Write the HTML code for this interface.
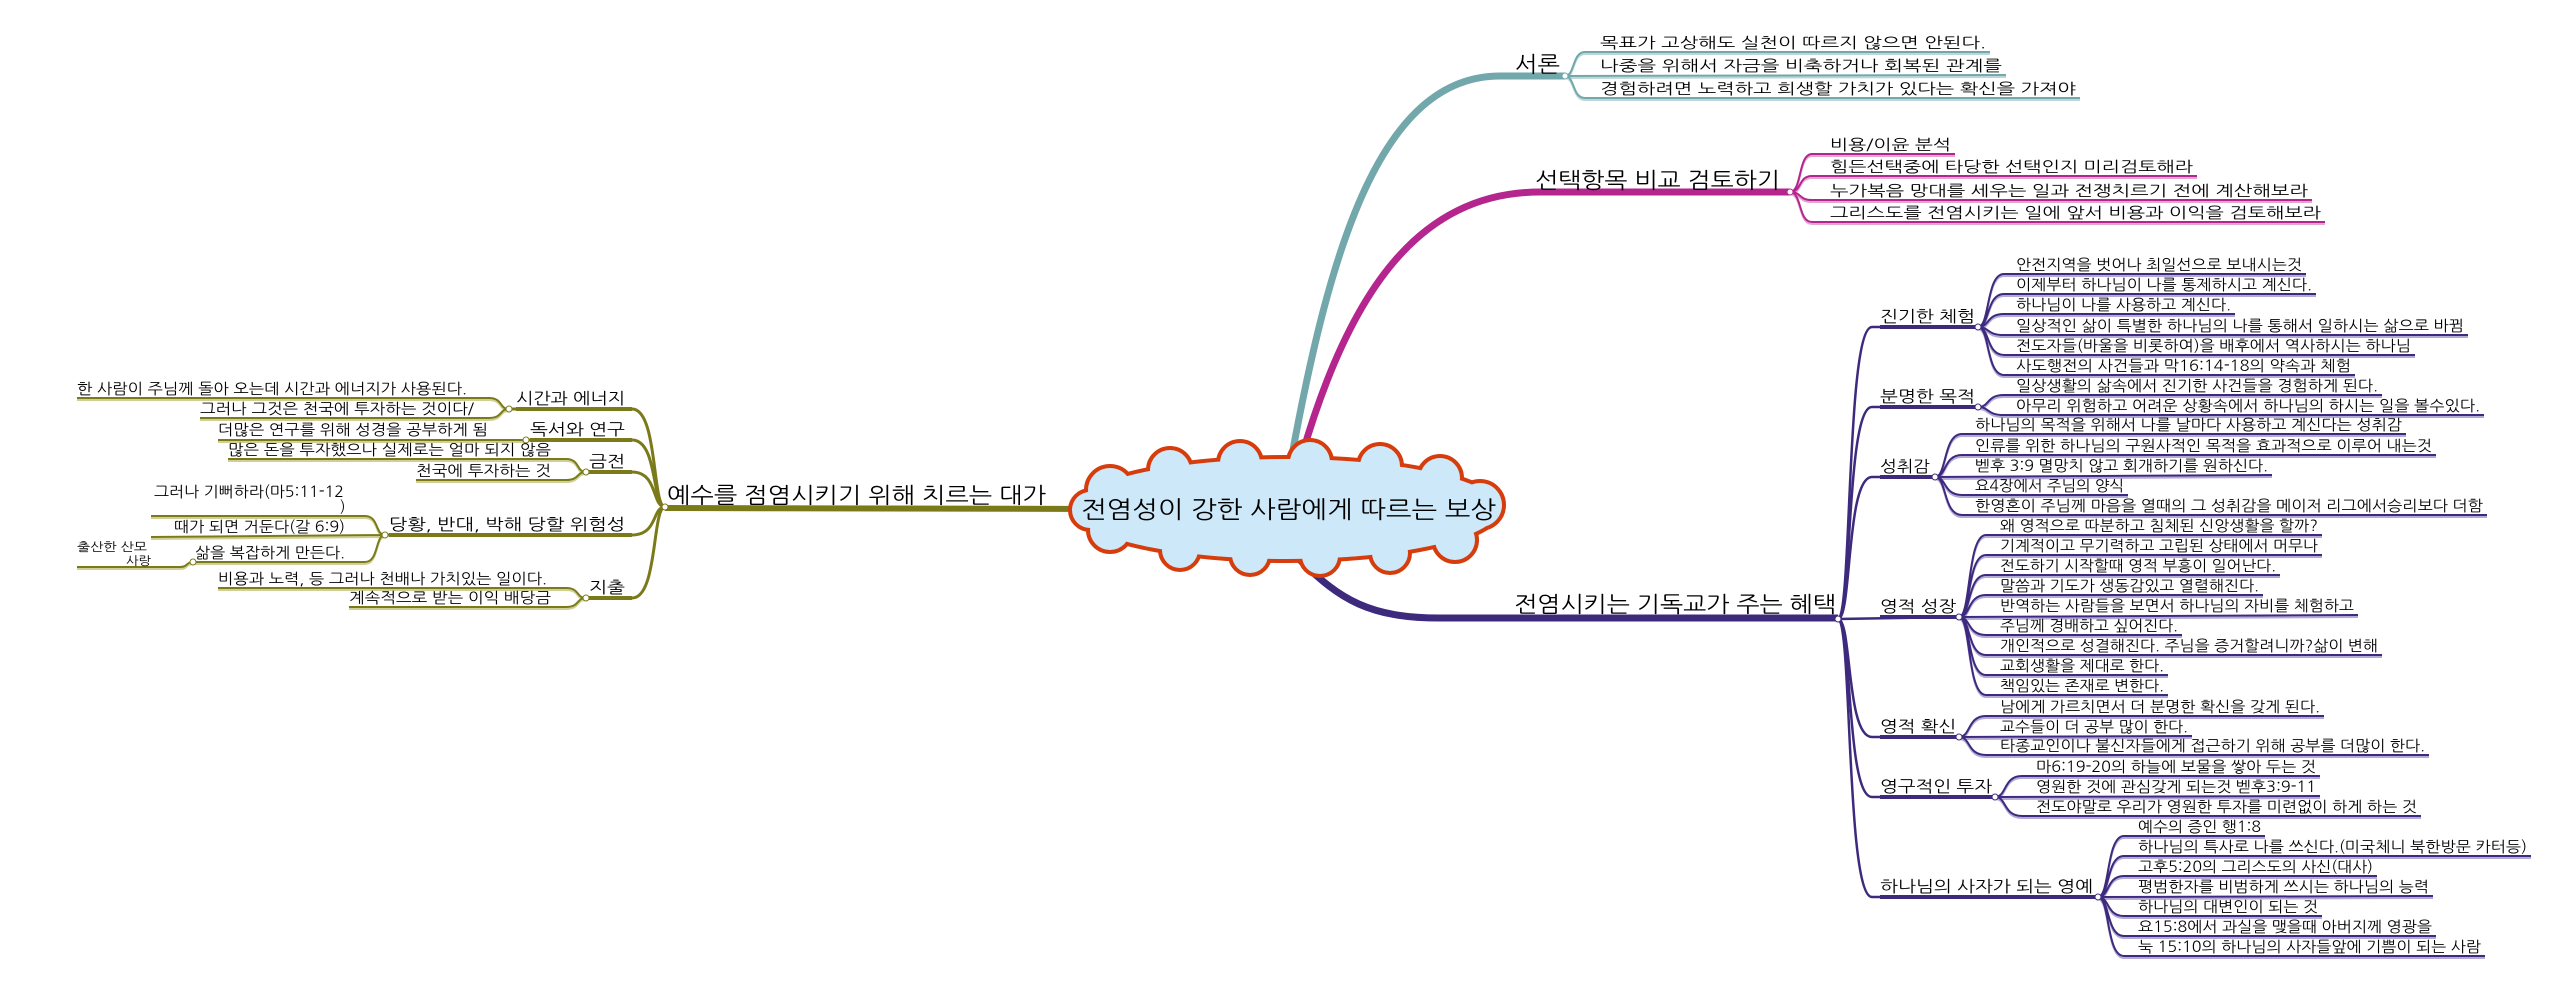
<!DOCTYPE html>
<html><head><meta charset="utf-8">
<style>
html,body{margin:0;padding:0;background:#fff;}
svg{display:block;}
text{font-family:"NanumGothic","Liberation Sans","Noto Sans CJK KR",sans-serif;fill:#000;}
.l{font-size:15px;}
.c{font-size:16px;}
.m{font-size:22px;}
.p{fill:none;stroke:#3d2a7d;stroke-width:2;}
.ps{fill:none;stroke:#b3aad6;stroke-width:2;}
.o{fill:none;stroke:#7a7a1a;stroke-width:2;}
.os{fill:none;stroke:#cfcf96;stroke-width:2;}
.t{fill:none;stroke:#72a7ab;stroke-width:2;}
.ts{fill:none;stroke:#bcd7d9;stroke-width:2;}
.g{fill:none;stroke:#b5258e;stroke-width:2;}
.gs{fill:none;stroke:#e3a6d1;stroke-width:2;}
.nd{fill:#fff;stroke-width:1;}
</style></head>
<body>
<svg width="2564" height="990" viewBox="0 0 2564 990" xmlns="http://www.w3.org/2000/svg">

<path d="M1292,455 C1330,250 1380,76 1500,76 L1565,76" fill="none" stroke="#72a7ab" stroke-width="7"/>
<path d="M1302,455 C1350,290 1420,192 1540,192 L1790,192" fill="none" stroke="#b5258e" stroke-width="7"/>
<path d="M1300,560 C1340,600 1370,618 1440,618 L1838,618" fill="none" stroke="#3d2a7d" stroke-width="7"/>
<path d="M1100,509 L665,508" fill="none" stroke="#7a7a1a" stroke-width="6"/>

<!-- cloud -->
<g fill="#d63c0c" stroke="#d63c0c" stroke-width="8">
<ellipse cx="1287" cy="509" rx="212" ry="50"/>
<circle cx="1110" cy="490" r="22"/><circle cx="1170" cy="470" r="20"/><circle cx="1240" cy="463" r="20"/><circle cx="1310" cy="462" r="20"/><circle cx="1380" cy="466" r="20"/><circle cx="1440" cy="478" r="20"/><circle cx="1480" cy="505" r="22"/>
<circle cx="1455" cy="540" r="20"/><circle cx="1390" cy="553" r="18"/><circle cx="1320" cy="556" r="18"/><circle cx="1250" cy="555" r="18"/><circle cx="1180" cy="550" r="18"/><circle cx="1110" cy="530" r="20"/><circle cx="1090" cy="510" r="18"/>
</g>
<g fill="#cde9f9">
<ellipse cx="1287" cy="509" rx="212" ry="50"/>
<circle cx="1110" cy="490" r="22"/><circle cx="1170" cy="470" r="20"/><circle cx="1240" cy="463" r="20"/><circle cx="1310" cy="462" r="20"/><circle cx="1380" cy="466" r="20"/><circle cx="1440" cy="478" r="20"/><circle cx="1480" cy="505" r="22"/>
<circle cx="1455" cy="540" r="20"/><circle cx="1390" cy="553" r="18"/><circle cx="1320" cy="556" r="18"/><circle cx="1250" cy="555" r="18"/><circle cx="1180" cy="550" r="18"/><circle cx="1110" cy="530" r="20"/><circle cx="1090" cy="510" r="18"/>
</g>
<text x="1081" y="518" style="font-size:24px" textLength="415" lengthAdjust="spacingAndGlyphs">전염성이 강한 사람에게 따르는 보상</text>

<text class="m" x="1515" y="72" textLength="45" lengthAdjust="spacingAndGlyphs">서론</text>
<path class="ts" d="M1565,78 C1575,78 1572,54 1585,54 L1990,54 M1565,78 L2006,77 M1565,78 C1575,78 1572,100 1585,100 L2080,100"/>
<path class="t" d="M1565,76 C1575,76 1572,52 1585,52 L1990,52 M1565,76 L2006,75 M1565,76 C1575,76 1572,98 1585,98 L2080,98"/>
<text class="l" x="1600" y="48" textLength="386" lengthAdjust="spacingAndGlyphs">목표가 고상해도 실천이 따르지 않으면 안된다.</text>
<text class="l" x="1600" y="71" textLength="402" lengthAdjust="spacingAndGlyphs">나중을 위해서 자금을 비축하거나 회복된 관계를</text>
<text class="l" x="1600" y="94" textLength="476" lengthAdjust="spacingAndGlyphs">경험하려면 노력하고 희생할 가치가 있다는 확신을 가져야</text>
<circle class="nd" cx="1565" cy="76" r="3" stroke="#72a7ab"/>

<text class="m" x="1535" y="188" textLength="245" lengthAdjust="spacingAndGlyphs">선택항목 비교 검토하기</text>
<path class="gs" d="M1790,194 C1802,194 1798,156 1812,156 L1955,156 M1790,194 C1802,194 1798,178 1812,178 L2197,178 M1790,194 C1802,194 1798,202 1812,202 L2312,202 M1790,194 C1802,194 1798,224 1812,224 L2325,224"/>
<path class="g" d="M1790,192 C1802,192 1798,154 1812,154 L1955,154 M1790,192 C1802,192 1798,176 1812,176 L2197,176 M1790,192 C1802,192 1798,200 1812,200 L2312,200 M1790,192 C1802,192 1798,222 1812,222 L2325,222"/>
<text class="l" x="1830" y="150" textLength="121" lengthAdjust="spacingAndGlyphs">비용/이윤 분석</text>
<text class="l" x="1830" y="172" textLength="363" lengthAdjust="spacingAndGlyphs">힘든선택중에 타당한 선택인지 미리검토해라</text>
<text class="l" x="1830" y="196" textLength="478" lengthAdjust="spacingAndGlyphs">누가복음 망대를 세우는 일과  전쟁치르기 전에 계산해보라</text>
<text class="l" x="1830" y="218" textLength="491" lengthAdjust="spacingAndGlyphs">그리스도를 전염시키는 일에 앞서 비용과 이익을 검토해보라</text>
<circle class="nd" cx="1790" cy="192" r="3" stroke="#b5258e"/>

<text class="m" x="1514" y="612" textLength="322" lengthAdjust="spacingAndGlyphs">전염시키는 기독교가 주는 혜택</text>
<g fill="none" stroke="#3d2a7d" stroke-width="2.5">
<path d="M1838,619 C1852,619 1846,327 1872,327 L1978,327"/>
<path d="M1838,619 C1852,619 1846,407 1872,407 L1978,407"/>
<path d="M1838,619 C1852,619 1846,477 1872,477 L1935,477"/>
<path d="M1838,619 L1959,617"/>
<path d="M1838,619 C1852,619 1846,737 1872,737 L1959,737"/>
<path d="M1838,619 C1852,619 1846,797 1872,797 L1995,797"/>
<path d="M1838,619 C1852,619 1846,897 1872,897 L2098,897"/>
</g>
<g fill="none" stroke="#3d2a7d" stroke-width="4">
<path d="M1880,327 L1978,327 M1880,407 L1978,407 M1880,477 L1935,477 M1880,617 L1959,617 M1880,737 L1959,737 M1880,797 L1995,797 M1880,897 L2098,897"/>
</g>
<circle class="nd" cx="1838" cy="619" r="3" stroke="#3d2a7d"/>
<text class="c" x="1880" y="322" textLength="95" lengthAdjust="spacingAndGlyphs">진기한 체험</text>
<text class="c" x="1880" y="402" textLength="95" lengthAdjust="spacingAndGlyphs">분명한 목적</text>
<text class="c" x="1880" y="472" textLength="50" lengthAdjust="spacingAndGlyphs">성취감</text>
<text class="c" x="1880" y="612" textLength="76" lengthAdjust="spacingAndGlyphs">영적 성장</text>
<text class="c" x="1880" y="732" textLength="76" lengthAdjust="spacingAndGlyphs">영적 확신</text>
<text class="c" x="1880" y="792" textLength="112" lengthAdjust="spacingAndGlyphs">영구적인 투자</text>
<text class="c" x="1880" y="892" textLength="213" lengthAdjust="spacingAndGlyphs">하나님의 사자가 되는 영예</text>

<g class="ps" transform="translate(0,2)">
<path d="M1978,327 C1990,327 1986,274 2004,274 L2306,274 M1978,327 C1990,327 1986,294 2004,294 L2316,294 M1978,327 C1990,327 1986,314 2004,314 L2235,314 M1978,327 C1990,327 1986,335 2004,335 L2468,335 M1978,327 C1990,327 1986,355 2004,355 L2415,355 M1978,327 C1990,327 1986,375 2004,375 L2355,375"/>
<path d="M1978,407 C1990,407 1986,395 2004,395 L2382,395 M1978,407 C1990,407 1986,415 2004,415 L2484,415"/>
<path d="M1935,477 C1947,477 1943,434 1962,434 L2406,434 M1935,477 C1947,477 1943,455 1962,455 L2436,455 M1935,477 L2272,475 M1935,477 C1947,477 1943,495 1962,495 L2128,495 M1935,477 C1947,477 1943,515 1962,515 L2487,515"/>
<path d="M1959,617 C1971,617 1967,535 1986,535 L2322,535 M1959,617 C1971,617 1967,555 1986,555 L2322,555 M1959,617 C1971,617 1967,575 1986,575 L2280,575 M1959,617 C1971,617 1967,595 1986,595 L2263,595 M1959,617 L2358,615 M1959,617 C1971,617 1967,635 1986,635 L2182,635 M1959,617 C1971,617 1967,655 1986,655 L2382,655 M1959,617 C1971,617 1967,675 1986,675 L2168,675 M1959,617 C1971,617 1967,695 1986,695 L2168,695"/>
<path d="M1959,737 C1971,737 1967,716 1986,716 L2324,716 M1959,737 L2192,736 M1959,737 C1971,737 1967,755 1986,755 L2429,755"/>
<path d="M1995,797 C2007,797 2003,776 2022,776 L2320,776 M1995,797 L2320,796 M1995,797 C2007,797 2003,816 2022,816 L2421,816"/>
<path d="M2098,897 C2110,897 2106,836 2124,836 L2265,836 M2098,897 C2110,897 2106,856 2124,856 L2531,856 M2098,897 C2110,897 2106,876 2124,876 L2377,876 M2098,897 L2433,896 M2098,897 C2110,897 2106,916 2124,916 L2322,916 M2098,897 C2110,897 2106,936 2124,936 L2436,936 M2098,897 C2110,897 2106,956 2124,956 L2485,956"/>
</g>
<g class="p">
<path d="M1978,327 C1990,327 1986,274 2004,274 L2306,274 M1978,327 C1990,327 1986,294 2004,294 L2316,294 M1978,327 C1990,327 1986,314 2004,314 L2235,314 M1978,327 C1990,327 1986,335 2004,335 L2468,335 M1978,327 C1990,327 1986,355 2004,355 L2415,355 M1978,327 C1990,327 1986,375 2004,375 L2355,375"/>
<path d="M1978,407 C1990,407 1986,395 2004,395 L2382,395 M1978,407 C1990,407 1986,415 2004,415 L2484,415"/>
<path d="M1935,477 C1947,477 1943,434 1962,434 L2406,434 M1935,477 C1947,477 1943,455 1962,455 L2436,455 M1935,477 L2272,475 M1935,477 C1947,477 1943,495 1962,495 L2128,495 M1935,477 C1947,477 1943,515 1962,515 L2487,515"/>
<path d="M1959,617 C1971,617 1967,535 1986,535 L2322,535 M1959,617 C1971,617 1967,555 1986,555 L2322,555 M1959,617 C1971,617 1967,575 1986,575 L2280,575 M1959,617 C1971,617 1967,595 1986,595 L2263,595 M1959,617 L2358,615 M1959,617 C1971,617 1967,635 1986,635 L2182,635 M1959,617 C1971,617 1967,655 1986,655 L2382,655 M1959,617 C1971,617 1967,675 1986,675 L2168,675 M1959,617 C1971,617 1967,695 1986,695 L2168,695"/>
<path d="M1959,737 C1971,737 1967,716 1986,716 L2324,716 M1959,737 L2192,736 M1959,737 C1971,737 1967,755 1986,755 L2429,755"/>
<path d="M1995,797 C2007,797 2003,776 2022,776 L2320,776 M1995,797 L2320,796 M1995,797 C2007,797 2003,816 2022,816 L2421,816"/>
<path d="M2098,897 C2110,897 2106,836 2124,836 L2265,836 M2098,897 C2110,897 2106,856 2124,856 L2531,856 M2098,897 C2110,897 2106,876 2124,876 L2377,876 M2098,897 L2433,896 M2098,897 C2110,897 2106,916 2124,916 L2322,916 M2098,897 C2110,897 2106,936 2124,936 L2436,936 M2098,897 C2110,897 2106,956 2124,956 L2485,956"/>
</g>
<g stroke="#3d2a7d">
<circle class="nd" cx="1978" cy="327" r="3"/><circle class="nd" cx="1978" cy="407" r="3"/><circle class="nd" cx="1935" cy="477" r="3"/><circle class="nd" cx="1959" cy="617" r="3"/><circle class="nd" cx="1959" cy="737" r="3"/><circle class="nd" cx="1995" cy="797" r="3"/><circle class="nd" cx="2098" cy="897" r="3"/>
</g>

<g class="l">
<text x="2016" y="270" textLength="286" lengthAdjust="spacingAndGlyphs">안전지역을 벗어나 최일선으로 보내시는것</text>
<text x="2016" y="290" textLength="296" lengthAdjust="spacingAndGlyphs">이제부터 하나님이 나를 통제하시고 계신다.</text>
<text x="2016" y="310" textLength="215" lengthAdjust="spacingAndGlyphs">하나님이 나를 사용하고 계신다.</text>
<text x="2016" y="331" textLength="448" lengthAdjust="spacingAndGlyphs">일상적인 삶이 특별한 하나님의 나를 통해서 일하시는 삶으로 바뀜</text>
<text x="2016" y="351" textLength="395" lengthAdjust="spacingAndGlyphs">전도자들(바울을 비롯하여)을 배후에서 역사하시는 하나님</text>
<text x="2016" y="371" textLength="335" lengthAdjust="spacingAndGlyphs">사도행전의 사건들과  막16:14-18의 약속과 체험</text>
<text x="2016" y="391" textLength="362" lengthAdjust="spacingAndGlyphs">일상생활의 삶속에서 진기한 사건들을 경험하게 된다.</text>
<text x="2016" y="411" textLength="464" lengthAdjust="spacingAndGlyphs">아무리 위험하고 어려운 상황속에서 하나님의 하시는 일을 볼수있다.</text>
<text x="1975" y="430" textLength="427" lengthAdjust="spacingAndGlyphs">하나님의 목적을 위해서 나를 날마다 사용하고 계신다는 성취감</text>
<text x="1975" y="451" textLength="457" lengthAdjust="spacingAndGlyphs">인류를 위한 하나님의 구원사적인 목적을 효과적으로 이루어 내는것</text>
<text x="1975" y="471" textLength="293" lengthAdjust="spacingAndGlyphs">벧후 3:9 멸망치 않고 회개하기를 원하신다.</text>
<text x="1975" y="491" textLength="149" lengthAdjust="spacingAndGlyphs">요4장에서 주님의 양식</text>
<text x="1975" y="511" textLength="508" lengthAdjust="spacingAndGlyphs">한영혼이 주님께 마음을 열때의 그 성취감을 메이저 리그에서승리보다 더함</text>
<text x="2000" y="531" textLength="318" lengthAdjust="spacingAndGlyphs">왜 영적으로 따분하고 침체된 신앙생활을 할까?</text>
<text x="2000" y="551" textLength="318" lengthAdjust="spacingAndGlyphs">기계적이고 무기력하고 고립된 상태에서 머무나</text>
<text x="2000" y="571" textLength="276" lengthAdjust="spacingAndGlyphs">전도하기 시작할때 영적 부흥이 일어난다.</text>
<text x="2000" y="591" textLength="259" lengthAdjust="spacingAndGlyphs">말씀과 기도가 생동감있고 열렬해진다.</text>
<text x="2000" y="611" textLength="354" lengthAdjust="spacingAndGlyphs">반역하는 사람들을 보면서 하나님의 자비를 체험하고</text>
<text x="2000" y="631" textLength="178" lengthAdjust="spacingAndGlyphs">주님께 경배하고 싶어진다.</text>
<text x="2000" y="651" textLength="378" lengthAdjust="spacingAndGlyphs">개인적으로 성결해진다. 주님을 증거할려니까?삶이 변해</text>
<text x="2000" y="671" textLength="164" lengthAdjust="spacingAndGlyphs">교회생활을 제대로 한다.</text>
<text x="2000" y="691" textLength="164" lengthAdjust="spacingAndGlyphs">책임있는 존재로 변한다.</text>
<text x="2000" y="712" textLength="320" lengthAdjust="spacingAndGlyphs">남에게 가르치면서 더 분명한 확신을 갖게 된다.</text>
<text x="2000" y="732" textLength="188" lengthAdjust="spacingAndGlyphs">교수들이 더 공부 많이 한다.</text>
<text x="2000" y="751" textLength="425" lengthAdjust="spacingAndGlyphs">타종교인이나 불신자들에게 접근하기 위해 공부를 더많이 한다.</text>
<text x="2036" y="772" textLength="280" lengthAdjust="spacingAndGlyphs">마6:19-20의 하늘에 보물을 쌓아 두는 것</text>
<text x="2036" y="792" textLength="280" lengthAdjust="spacingAndGlyphs">영원한 것에 관심갖게 되는것 벧후3:9-11</text>
<text x="2036" y="812" textLength="381" lengthAdjust="spacingAndGlyphs">전도야말로 우리가 영원한 투자를 미련없이 하게 하는 것</text>
<text x="2138" y="832" textLength="123" lengthAdjust="spacingAndGlyphs">예수의 증인 행1:8</text>
<text x="2138" y="852" textLength="389" lengthAdjust="spacingAndGlyphs">하나님의 특사로 나를 쓰신다.(미국체니 북한방문 카터등)</text>
<text x="2138" y="872" textLength="235" lengthAdjust="spacingAndGlyphs">고후5:20의 그리스도의 사신(대사)</text>
<text x="2138" y="892" textLength="291" lengthAdjust="spacingAndGlyphs">평범한자를 비범하게 쓰시는 하나님의 능력</text>
<text x="2138" y="912" textLength="180" lengthAdjust="spacingAndGlyphs">하나님의 대변인이 되는 것</text>
<text x="2138" y="932" textLength="294" lengthAdjust="spacingAndGlyphs">요15:8에서 과실을 맺을때 아버지께 영광을</text>
<text x="2138" y="952" textLength="343" lengthAdjust="spacingAndGlyphs">눅 15:10의 하나님의 사자들앞에 기쁨이 되는 사람</text>
</g>

<text class="m" x="667" y="503" textLength="379" lengthAdjust="spacingAndGlyphs">예수를 점염시키기 위해 치르는 대가</text>
<g fill="none" stroke="#7a7a1a" stroke-width="3">
<path d="M665,507 C652,507 658,409 632,409 L509,409"/>
<path d="M665,507 C652,507 658,440 632,440 L526,440"/>
<path d="M665,507 C652,507 658,472 632,472 L586,472"/>
<path d="M665,507 C652,507 658,535 632,535 L385,535"/>
<path d="M665,507 C652,507 658,598 632,598 L586,598"/>
</g>
<g fill="none" stroke="#7a7a1a" stroke-width="4">
<path d="M632,409 L516,409 M632,440 L530,440 M632,472 L589,472 M632,535 L389,535 M632,598 L589,598"/>
</g>
<g class="os" transform="translate(0,2)">
<path d="M509,409 C499,409 503,398 489,398 L77,398 M509,409 C499,409 503,418 489,418 L200,418"/>
<path d="M526,440 L218,440"/>
<path d="M586,472 C576,472 580,459 566,459 L228,459 M586,472 C576,472 580,480 566,480 L416,480"/>
<path d="M385,535 C375,535 379,516 365,516 L151,516 M385,535 L151,537 M385,535 C375,535 379,562 365,562 L193,562"/>
<path d="M193,562 C186,562 188,567 180,567 L77,567"/>
<path d="M586,598 C576,598 580,588 566,588 L218,588 M586,598 C576,598 580,607 566,607 L349,607"/>
</g>
<g class="o">
<path d="M509,409 C499,409 503,398 489,398 L77,398 M509,409 C499,409 503,418 489,418 L200,418"/>
<path d="M526,440 L218,440"/>
<path d="M586,472 C576,472 580,459 566,459 L228,459 M586,472 C576,472 580,480 566,480 L416,480"/>
<path d="M385,535 C375,535 379,516 365,516 L151,516 M385,535 L151,537 M385,535 C375,535 379,562 365,562 L193,562"/>
<path d="M193,562 C186,562 188,567 180,567 L77,567"/>
<path d="M586,598 C576,598 580,588 566,588 L218,588 M586,598 C576,598 580,607 566,607 L349,607"/>
</g>
<g stroke="#7a7a1a">
<circle class="nd" cx="665" cy="507" r="3"/><circle class="nd" cx="509" cy="409" r="3"/><circle class="nd" cx="526" cy="440" r="3"/><circle class="nd" cx="586" cy="472" r="3"/><circle class="nd" cx="385" cy="535" r="3"/><circle class="nd" cx="586" cy="598" r="3"/><circle class="nd" cx="193" cy="562" r="3"/>
</g>
<g class="c">
<text x="516" y="404" textLength="109" lengthAdjust="spacingAndGlyphs">시간과 에너지</text>
<text x="530" y="435" textLength="95" lengthAdjust="spacingAndGlyphs">독서와 연구</text>
<text x="589" y="467" textLength="36" lengthAdjust="spacingAndGlyphs">금전</text>
<text x="389" y="530" textLength="236" lengthAdjust="spacingAndGlyphs">당황, 반대, 박해 당할 위험성</text>
<text x="589" y="593" textLength="36" lengthAdjust="spacingAndGlyphs">지출</text>
</g>
<g class="l">
<text x="77" y="394" textLength="390" lengthAdjust="spacingAndGlyphs">한 사람이 주님께 돌아 오는데 시간과 에너지가 사용된다.</text>
<text x="200" y="414" textLength="274" lengthAdjust="spacingAndGlyphs">그러나 그것은 천국에 투자하는 것이다/</text>
<text x="218" y="435" textLength="270" lengthAdjust="spacingAndGlyphs">더많은 연구를 위해 성경을 공부하게 됨</text>
<text x="228" y="455" textLength="323" lengthAdjust="spacingAndGlyphs">많은 돈을 투자했으나 실제로는 얼마 되지 않음</text>
<text x="416" y="476" textLength="135" lengthAdjust="spacingAndGlyphs">천국에 투자하는 것</text>
<text x="154" y="497" textLength="190" lengthAdjust="spacingAndGlyphs">그러나 기뻐하라(마5:11-12</text>
<text x="340" y="512">)</text>
<text x="174" y="532" textLength="171" lengthAdjust="spacingAndGlyphs">때가 되면 거둔다(갈 6:9)</text>
<text x="195" y="558" textLength="150" lengthAdjust="spacingAndGlyphs">삶을 복잡하게 만든다.</text>
<text x="218" y="584" textLength="329" lengthAdjust="spacingAndGlyphs">비용과 노력, 등 그러나 천배나 가치있는 일이다.</text>
<text x="349" y="603" textLength="202" lengthAdjust="spacingAndGlyphs">계속적으로 받는 이익 배당금</text>
</g>
<text x="77" y="551" style="font-size:12px" textLength="70" lengthAdjust="spacingAndGlyphs">출산한 산모</text>
<text x="126" y="565" style="font-size:12px" textLength="25" lengthAdjust="spacingAndGlyphs">사랑</text>
</svg>
</body></html>
